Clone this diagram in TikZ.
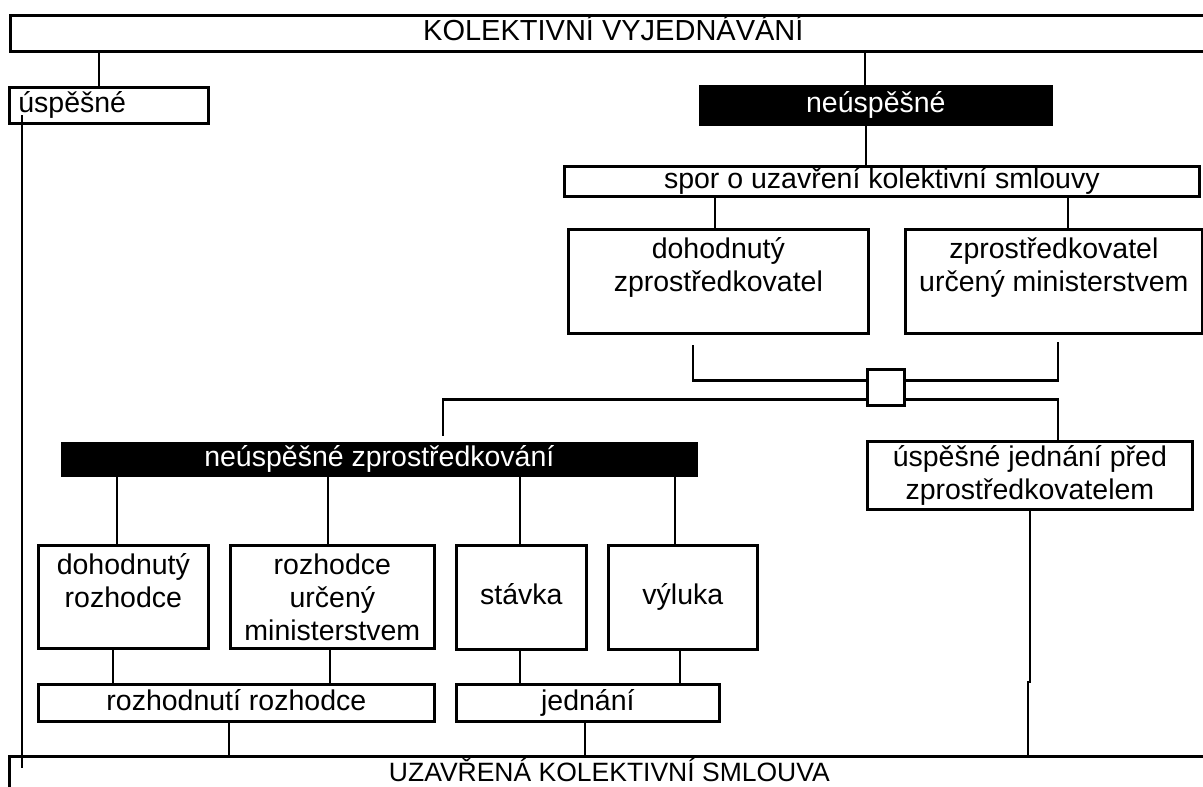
\documentclass[tikz,border=0pt]{standalone}
\usepackage{fontspec}
\setmainfont{Liberation Sans}
\begin{document}
\begin{tikzpicture}[x=1pt, y=-1pt, line width=2.7pt,
  box/.style={draw, rectangle, inner sep=0pt, anchor=north west, align=center, font=\fontsize{28.5}{33}\selectfont},
  oneline/.style={text height=21pt, text depth=6pt},
  blackbox/.style={box, fill=black, text=white}]
\useasboundingbox (0,0) rectangle (1203,787);
% Top and bottom bars
\node[box, oneline, minimum width=1206, minimum height=36, font=\fontsize{29}{33}\selectfont] (kv) at (9,14) {KOLEKTIVNÍ VYJEDNÁVÁNÍ};
\node[box, oneline, minimum width=1200, minimum height=36, font=\fontsize{26.5}{31}\selectfont] (uks) at (8,755) {UZAVŘENÁ KOLEKTIVNÍ SMLOUVA};
% First level
\node[box, oneline, minimum width=199, minimum height=36, inner xsep=9pt, text width=181pt, align=left] (usp) at (8,86) {úspěšné};
\node[blackbox, oneline, minimum width=351, minimum height=38] (neusp) at (699,85) {neúspěšné};
\node[box, oneline, minimum width=635, minimum height=30] (spor) at (563,165) {spor o uzavření kolektivní smlouvy};
\node[box, minimum width=300, minimum height=104] (dzp) at (567,228) {dohodnutý\\zprostředkovatel\\~};
\node[box, minimum width=297, minimum height=104] (mzp) at (904,228) {zprostředkovatel\\určený ministerstvem\\~};
% Junction square
\node[box, minimum width=37, minimum height=36] (sq) at (866,368) {};
% Second level
\node[blackbox, oneline, minimum width=634, minimum height=32] (nz) at (61,442) {neúspěšné zprostředkování};
\node[box, minimum width=325, minimum height=68] (ujz) at (866,440) {úspěšné jednání před\\zprostředkovatelem};
\node[box, minimum width=170, minimum height=103] (dr) at (37,544) {dohodnutý\\rozhodce\\~};
\node[box, minimum width=204, minimum height=103] (mr) at (229,544) {rozhodce\\určený\\ministerstvem};
\node[box, oneline, minimum width=130, minimum height=104] (stav) at (455,544) {stávka};
\node[box, oneline, minimum width=149, minimum height=104] (vyl) at (607,544) {výluka};
\node[box, oneline, minimum width=396, minimum height=37] (rr) at (37,683) {rozhodnutí rozhodce};
\node[box, oneline, minimum width=263, minimum height=37] (jed) at (455,683) {jednání};
% Vertical connectors
\foreach \x/\a/\b in {99/kv/usp, 865/kv/neusp, 866/neusp/spor, 715/spor/dzp, 1068/spor/mzp,
    117/nz/dr, 328/nz/mr, 520/nz/stav, 675/nz/vyl, 113/dr/rr, 330/mr/rr, 520/stav/jed,
    680/vyl/jed, 229/rr/uks, 585/jed/uks}
  \draw (\x,0 |- \a.south) -- (\x,0 |- \b.north);
% Bracket through the square
\draw (693,345) |- ([yshift=7pt]sq.west);
\draw ([yshift=7pt]sq.east) -| (1058,342);
\draw ([yshift=-12pt]sq.west) -| (443,436);
\draw ([yshift=-12pt]sq.east) -| (1058,0 |- ujz.north);
% Side lines
\draw (1030,0 |- ujz.south) -- (1030,682) -- (1028,682) -- (1028,0 |- uks.north);
\draw (22,115) -- (22,768);
\end{tikzpicture}
\end{document}
